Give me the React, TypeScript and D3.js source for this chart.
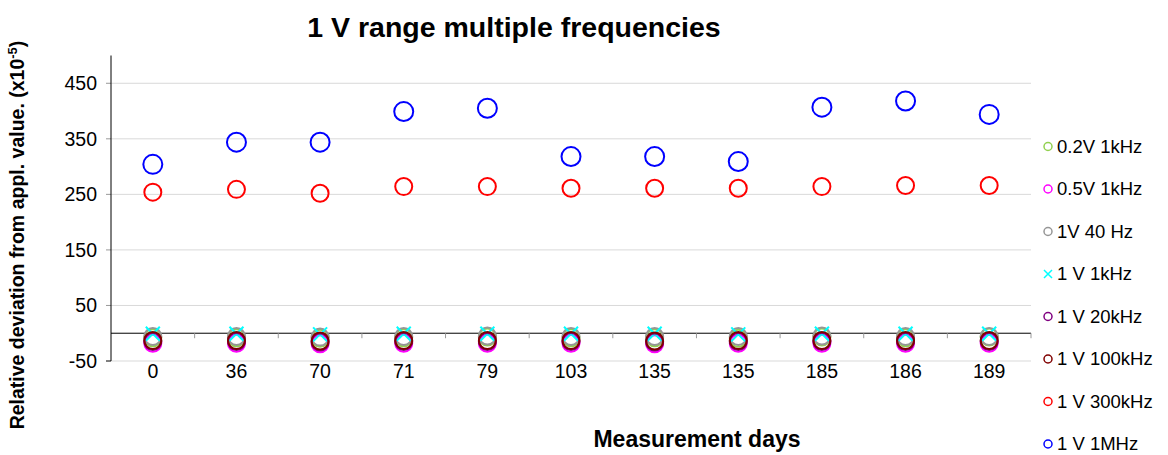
import React from "react"
import * as d3 from "d3"

const days = ["0", "36", "70", "71", "79", "103", "135", "135", "185", "186", "189"]

const v02_1k = [-8, -8, -9, -8, -7, -8, -8, -9, -7, -8, -7]
const v05_1k = [-18, -18, -19, -18, -18, -18, -19, -18, -18, -18, -18]
const v1_40 = [-6, -6, -7, -6, -5, -6, -6, -6, -5, -6, -6]
const v1_1k = [-1, -1, -2, -1, -1, -1, -1, -2, -1, -1, -1]
const v1_20k = [-15, -15, -16, -15, -15, -15, -16, -15, -15, -15, -15]
const v1_100k = [-13, -13, -14, -13, -13, -13, -14, -13, -13, -13, -13]
const v1_300k = [254, 259, 252, 264, 264, 261, 261, 261, 264, 266, 266]
const v1_1M = [304, 344, 344, 399, 405, 318, 318, 309, 407, 418, 394]

const yTicks = [-50, 50, 150, 250, 350, 450]

const series = [
  { name: "0.2V 1kHz", values: v02_1k, color: "#92d050", shape: "circle" },
  { name: "0.5V 1kHz", values: v05_1k, color: "#ff00ff", shape: "circle" },
  { name: "1V 40 Hz", values: v1_40, color: "#969696", shape: "circle" },
  { name: "1 V 1kHz", values: v1_1k, color: "#00ffff", shape: "x" },
  { name: "1 V 20kHz", values: v1_20k, color: "#800080", shape: "circle" },
  { name: "1 V 100kHz", values: v1_100k, color: "#800000", shape: "circle" },
  { name: "1 V 300kHz", values: v1_300k, color: "#ff0000", shape: "circle" },
  { name: "1 V 1MHz", values: v1_1M, color: "#0000ff", shape: "circle" },
]

const W = 1168
const H = 455
const font = "'Liberation Sans', Arial, sans-serif"

const App = () => {
  const left = 111
  const right = 1031
  const top = 55.5
  const bottom = 361

  const x = d3
    .scaleBand()
    .domain(days.map((d, i) => `${i}`))
    .range([left, right])
  const y = d3.scaleLinear().domain([-50, 500]).range([bottom, top])

  const cx = (i: number) => x(`${i}`)! + x.bandwidth() / 2

  return (
    <svg width={W} height={H} style={{ position: "absolute", left: 0, top: 0 }} fontFamily={font}>
      <rect width={W} height={H} fill="#fff" />
      <text x={514} y={37} textAnchor="middle" fontSize={28.5} fontWeight="bold">
        1 V range multiple frequencies
      </text>

      {/* gridlines */}
      {yTicks.map((t) => (
        <g key={t}>
          <line x1={left} x2={right} y1={y(t)} y2={y(t)} stroke="#d9d9d9" />
          <line x1={left - 5} x2={left} y1={y(t)} y2={y(t)} stroke={t === -50 ? "#000" : "#999"} />
          <text x={97} y={y(t)} dy="0.35em" textAnchor="end" fontSize={19.5}>
            {t}
          </text>
        </g>
      ))}

      {/* axes */}
      <line x1={left} x2={left} y1={top} y2={bottom} stroke="#000" />
      <line x1={left} x2={right} y1={y(0)} y2={y(0)} stroke="#000" />
      {days.map((d, i) =>
        i > 0 ? (
          <line key={i} x1={x(`${i}`)} x2={x(`${i}`)} y1={y(0)} y2={y(0) + 5} stroke="#999" />
        ) : null
      )}
      <line x1={right} x2={right} y1={y(0)} y2={y(0) + 5} stroke="#999" />

      {days.map((d, i) => (
        <text key={i} x={cx(i)} y={371} dy="0.35em" textAnchor="middle" fontSize={19.5}>
          {d}
        </text>
      ))}

      {/* markers */}
      {series.map((s) => (
        <g key={s.name}>
          {s.values.map((v, i) =>
            s.shape === "x" ? (
              <path
                key={i}
                d={`M${cx(i) - 7},${y(v) - 7}L${cx(i) + 7},${y(v) + 7}M${cx(i) + 7},${y(v) - 7}L${cx(i) - 7},${y(v) + 7}`}
                stroke={s.color}
                strokeWidth={2}
                fill="none"
              />
            ) : (
              <circle
                key={i}
                cx={cx(i)}
                cy={y(v)}
                r={s.name === "1 V 1MHz" ? 9.5 : 8.5}
                fill="none"
                stroke={s.color}
                strokeWidth={2}
              />
            )
          )}
        </g>
      ))}

      {/* legend */}
      {series.map((s, i) => {
        const ly = 146.5 + i * 42.5
        return (
          <g key={s.name}>
            {s.shape === "x" ? (
              <path
                d={`M1044,${ly - 4}L1052,${ly + 4}M1052,${ly - 4}L1044,${ly + 4}`}
                stroke={s.color}
                strokeWidth={1.5}
              />
            ) : (
              <circle cx={1048} cy={ly} r={4} fill="none" stroke={s.color} strokeWidth={1.5} />
            )}
            <text x={1057} y={ly} dy="0.35em" fontSize={18.5}>
              {s.name}
            </text>
          </g>
        )
      })}

      <text x={697} y={447} textAnchor="middle" fontSize={23} fontWeight="bold">
        Measurement days
      </text>
      <text
        transform={`translate(24,235) rotate(-90)`}
        textAnchor="middle"
        fontSize={19.5}
        fontWeight="bold"
      >
        Relative deviation from appl. value. (x10<tspan dy={-7} fontSize={13}>-5</tspan>
        <tspan dy={7}>)</tspan>
      </text>
    </svg>
  )
}

export default App
